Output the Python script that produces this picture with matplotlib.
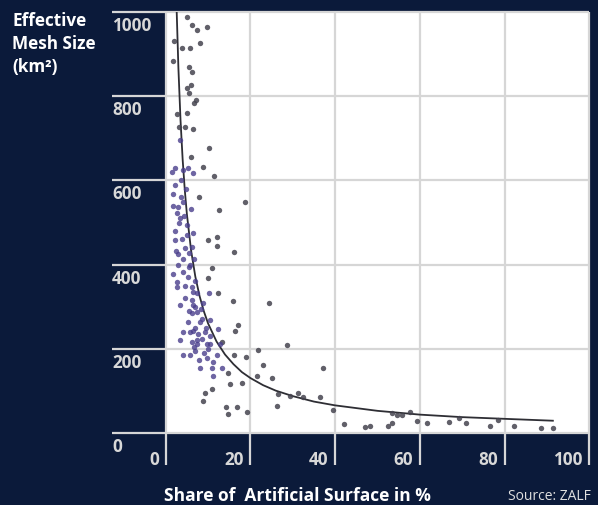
#!/usr/bin/env python3

import matplotlib
matplotlib.use("Agg")
from matplotlib import pyplot as plt
from matplotlib.transforms import offset_copy

BG = "#0b1a3a"
GRID = "#d6d6d6"
LABEL = "#d8d8d8"

x_ticks = [0, 20, 40, 60, 80, 100]
y_ticks = [0, 200, 400, 600, 800, 1000]

# dark grey dots (upper band and the long tail)
gray_x = [5.0, 6.2, 7.4, 9.8, 1.9, 3.8, 5.7, 8.1, 1.7, 5.4, 6.2, 6.0, 5.0, 5.5, 7.1, 6.7,
          5.0, 2.6, 4.5, 6.4, 3.1, 10.2, 6.0, 8.8, 11.4, 7.9, 18.8, 12.6, 10.0, 12.1, 12.1,
          16.2, 10.0, 11.0, 12.4, 16.0, 17.1, 16.4, 24.4, 13.3, 16.2, 19.0, 21.8, 28.6,
          23.0, 25.1, 37.1, 14.8, 15.2, 18.1, 11.0, 9.3, 8.8, 14.3, 16.9, 19.3, 14.8, 21.6,
          26.5, 26.3, 29.3, 31.2, 32.4, 36.4, 39.5, 42.1, 47.0, 48.2, 52.5, 53.4, 53.4,
          54.6, 55.8, 57.7, 59.3, 61.7, 66.9, 69.2, 71.0, 76.6, 78.5, 82.2, 88.6, 91.4]
gray_y = [990, 969, 957, 964, 931, 916, 916, 926, 883, 871, 857, 828, 821, 809, 792, 785,
          761, 757, 728, 723, 726, 678, 656, 632, 611, 561, 549, 530, 458, 465, 444,
          430, 368, 391, 332, 313, 255, 243, 308, 215, 184, 179, 196, 208,
          160, 129, 153, 143, 117, 119, 105, 95, 76, 60, 60, 50, 45, 134,
          93, 64, 88, 95, 84, 84, 53, 21, 14, 17, 17, 24, 48,
          41, 41, 50, 29, 24, 26, 36, 24, 17, 31, 17, 12, 10]

# purple cluster of low-share regions
purple_x = [3.3, 1.4, 2.1, 4.0, 5.2, 6.4, 1.7, 2.9, 4.0, 6.0, 2.6, 3.3, 5.0, 3.1, 2.1, 5.0,
            6.4, 2.4, 2.9, 4.5, 6.2, 4.0, 6.7, 5.5, 1.7, 4.0, 5.2, 2.6, 2.6, 6.2, 6.4, 7.4,
            10.2, 4.5, 6.2, 3.3, 6.4, 8.8, 7.4, 6.2, 5.2, 8.1, 10.5, 6.4, 4.0, 5.7, 12.4,
            7.4, 8.6, 10.5, 9.8, 6.2, 3.3, 7.4, 10.5, 12.9, 4.0, 5.7, 7.9, 9.8, 11.2, 8.1,
            11.0, 13.3, 11.2, 3.5, 4.8, 2.2, 3.8, 5.8, 4.6, 7.0, 3.0, 8.5, 9.5, 7.0, 5.5,
            9.0, 10.0, 6.8, 12.0, 1.8, 2.3, 3.6, 4.3, 5.4, 6.9, 7.7, 8.3, 9.2, 6.6]
purple_y = [697, 620, 630, 625, 630, 618, 568, 537, 549, 532, 523, 511, 494, 499, 458, 470,
            475, 432, 425, 439, 442, 413, 413, 427, 377, 382, 370, 358, 346, 346, 334, 332,
            332, 320, 315, 303, 303, 308, 286, 284, 263, 263, 267, 243, 239, 239, 246,
            220, 224, 231, 212, 215, 220, 212, 212, 212, 184, 184, 172, 177, 167, 153,
            153, 155, 136, 600, 580, 590, 460, 400, 350, 360, 400, 270, 250, 250, 290,
            190, 200, 195, 185, 540, 480, 560, 515, 395, 300, 235, 295, 240, 205]

# fitted curve
curve_x = [2.6, 3.0, 3.5, 4.0, 4.5, 5.0, 6.0, 7.0, 8.0, 9.0, 10.0, 12.0, 14.0, 16.0, 18.0,
           20.0, 23.0, 26.0, 30.0, 35.0, 40.0, 50.0, 60.0, 70.0, 80.0, 91.4]
curve_y = [1000, 867, 743, 650, 578, 520, 433, 371, 325, 289, 260, 217, 186, 163, 144,
           130, 113, 100, 87, 74, 65, 52, 43, 37, 33, 28.5]

plt.rcParams["font.family"] = ["Open Sans", "DejaVu Sans"]

W, H = 598, 505
fig = plt.figure(figsize=(W / 100, H / 100), dpi=100, facecolor=BG)

left, right, top, bottom = 165.7, 589.3, 12.3, 432.7
ax = fig.add_axes([left / W, (H - bottom) / H, (right - left) / W, (bottom - top) / H])
ax.set_facecolor("white")
ax.set_xlim(0, 100)
ax.set_ylim(0, 1000)
for s in ax.spines.values():
	s.set_visible(False)
ax.set_xticks([])
ax.set_yticks([])

# grid lines reach out into the dark margin
ax.hlines(y_ticks, -(left - 112) / (right - left), 1, transform=ax.get_yaxis_transform(),
		  colors=GRID, lw=1.6, clip_on=False, zorder=1)
ax.vlines(x_ticks, -(465 - bottom) / (bottom - top), 1, transform=ax.get_xaxis_transform(),
		  colors=GRID, lw=1.6, clip_on=False, zorder=1)

ax.plot(curve_x, curve_y, color="#2e2e34", lw=1.3, zorder=3)
ax.scatter(gray_x, gray_y, s=15, color="#45444f", alpha=0.85, linewidths=0, zorder=4)
ax.scatter(purple_x, purple_y, s=15, color="#4a3f8c", alpha=0.8, linewidths=0, zorder=4)

ytr = offset_copy(ax.get_yaxis_transform(), fig=fig, y=-19, units="dots")
for v in y_ticks:
	ax.text(-(left - 112) / (right - left), v, str(v), transform=ytr, ha="left", va="baseline",
			color=LABEL, fontsize=12.3, fontweight="bold")

xtr = offset_copy(ax.get_xaxis_transform(), fig=fig, x=-6.5, units="dots")
for v in x_ticks:
	ax.text(v, -(465 - bottom) / (bottom - top), str(v), transform=xtr, ha="right",
			va="baseline", color=LABEL, fontsize=12.3, fontweight="bold")

for i, line in enumerate(["Effective", "Mesh Size", "(km\u00b2)"]):
	fig.text(12 / W, 1 - (26 + 23 * i) / H, line, color="white", fontsize=12.3,
			 fontweight="bold", ha="left", va="baseline")

fig.text(164 / W, 1 - 501 / H, "Share of  Artificial Surface in %", color="white",
		 fontsize=12.5, fontweight="bold", ha="left", va="baseline")
fig.text(591 / W, 1 - 500 / H, "Source: ZALF", color="#e0e0e0", fontsize=10,
		 ha="right", va="baseline")

plt.savefig("out.png", dpi=100, facecolor=BG)
plt.close()
